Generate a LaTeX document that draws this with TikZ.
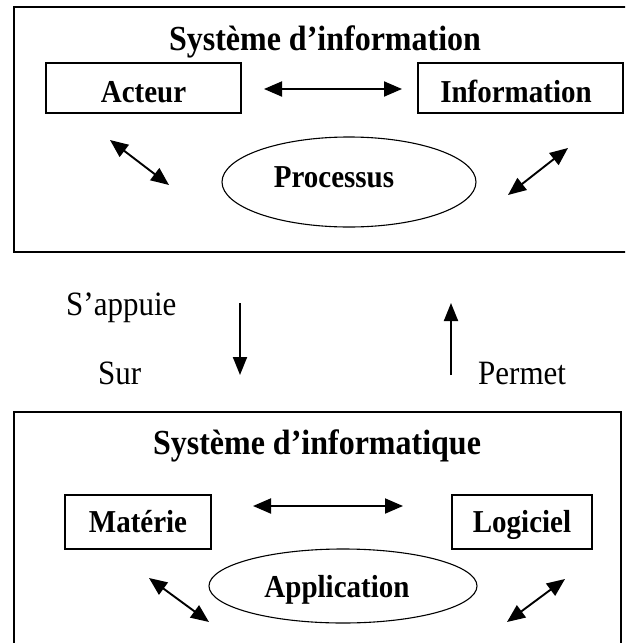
\documentclass[tikz,border=0pt]{standalone}
\usepackage{fontspec}
\setmainfont{Liberation Serif}
\usetikzlibrary{arrows.meta,shapes.geometric}
\newcommand{\tall}[1]{\scalebox{1}[1.1]{#1}}
\tikzset{
  frame/.style={draw=black, line width=1.3pt},
  titletext/.style={font=\fontsize{32}{36}\selectfont\bfseries, inner sep=0pt},
  labelbox/.style={draw=black, line width=1.2pt, rectangle, inner sep=0pt,
    font=\fontsize{29}{32}\selectfont\bfseries},
  oval/.style={draw=black, line width=1.1pt, ellipse, inner sep=0pt},
  ovaltext/.style={font=\fontsize{29}{32}\selectfont\bfseries, inner sep=0pt},
  plaintext/.style={font=\fontsize{31}{34}\selectfont, inner sep=0pt},
  dblarrow/.style={line width=1.9pt, {Triangle[length=18pt,width=15pt]}-{Triangle[length=18pt,width=15pt]}},
  onearrow/.style={line width=1.9pt, -{Triangle[length=18pt,width=14pt]}}
}
\begin{document}
\begin{tikzpicture}[x=1pt,y=-1pt]
\useasboundingbox (0,0) rectangle (625,643);
\clip (0,0) rectangle (625,643);
\fill[white] (0,0) rectangle (625,643);

% ---------- top frame ----------
\draw[frame] (14,7) rectangle (640,252);
\node[titletext, anchor=base] (t1) at (325,50) {\tall{Système d’information}};
\node[labelbox, minimum width=195pt, minimum height=50pt] (acteur) at (143.5,88) {};
\node[labelbox, minimum width=205pt, minimum height=50pt] (info) at (520.5,88) {};
\node[ovaltext, anchor=base] (actt) at (143.5,102) {\tall{Acteur}};
\node[ovaltext, anchor=base] (inft) at (516,102) {\tall{Information}};
\node[oval, minimum width=254pt, minimum height=90pt] (proc) at (349,182) {};
\node[ovaltext, anchor=base] (proct) at (334,187) {\tall{Processus}};

\coordinate (a1) at (264,89);  \coordinate (a2) at (402,89);
\coordinate (b1) at (110,140); \coordinate (b2) at (169,185);
\coordinate (c1) at (508,195); \coordinate (c2) at (568,148);
\draw[dblarrow] (a1) -- (a2);
\draw[dblarrow] (b1) -- (b2);
\draw[dblarrow] (c1) -- (c2);

% ---------- middle ----------
\node[plaintext, anchor=base west] (appuie) at (66,315) {\tall{S’appuie}};
\node[plaintext, anchor=base west] (sur) at (98,384) {\tall{Sur}};
\node[plaintext, anchor=base west] (permet) at (478,384) {\tall{Permet}};
\coordinate (d1) at (240,303); \coordinate (d2) at (240,375);
\coordinate (u1) at (451,375); \coordinate (u2) at (451,303);
\draw[onearrow] (d1) -- (d2);
\draw[onearrow] (u1) -- (u2);

% ---------- bottom frame ----------
\draw[frame] (14,412) rectangle (621,660);
\node[titletext, anchor=base] (t2) at (317,454) {\tall{Système d’informatique}};
\node[labelbox, minimum width=146pt, minimum height=54pt] (mat) at (138,522) {};
\node[labelbox, minimum width=140pt, minimum height=54pt] (log) at (522,522) {};
\node[ovaltext, anchor=base] (matt) at (138,532) {\tall{Matérie}};
\node[ovaltext, anchor=base] (logt) at (522,532) {\tall{Logiciel}};
\node[oval, minimum width=268pt, minimum height=74pt] (app) at (343,586) {};
\node[ovaltext, anchor=base] (appt) at (337,597) {\tall{Application}};

\coordinate (e1) at (253,506); \coordinate (e2) at (403,506);
\coordinate (f1) at (149,578); \coordinate (f2) at (209,622);
\coordinate (g1) at (507,622); \coordinate (g2) at (565,579);
\draw[dblarrow] (e1) -- (e2);
\draw[dblarrow] (f1) -- (f2);
\draw[dblarrow] (g1) -- (g2);
\end{tikzpicture}
\end{document}
